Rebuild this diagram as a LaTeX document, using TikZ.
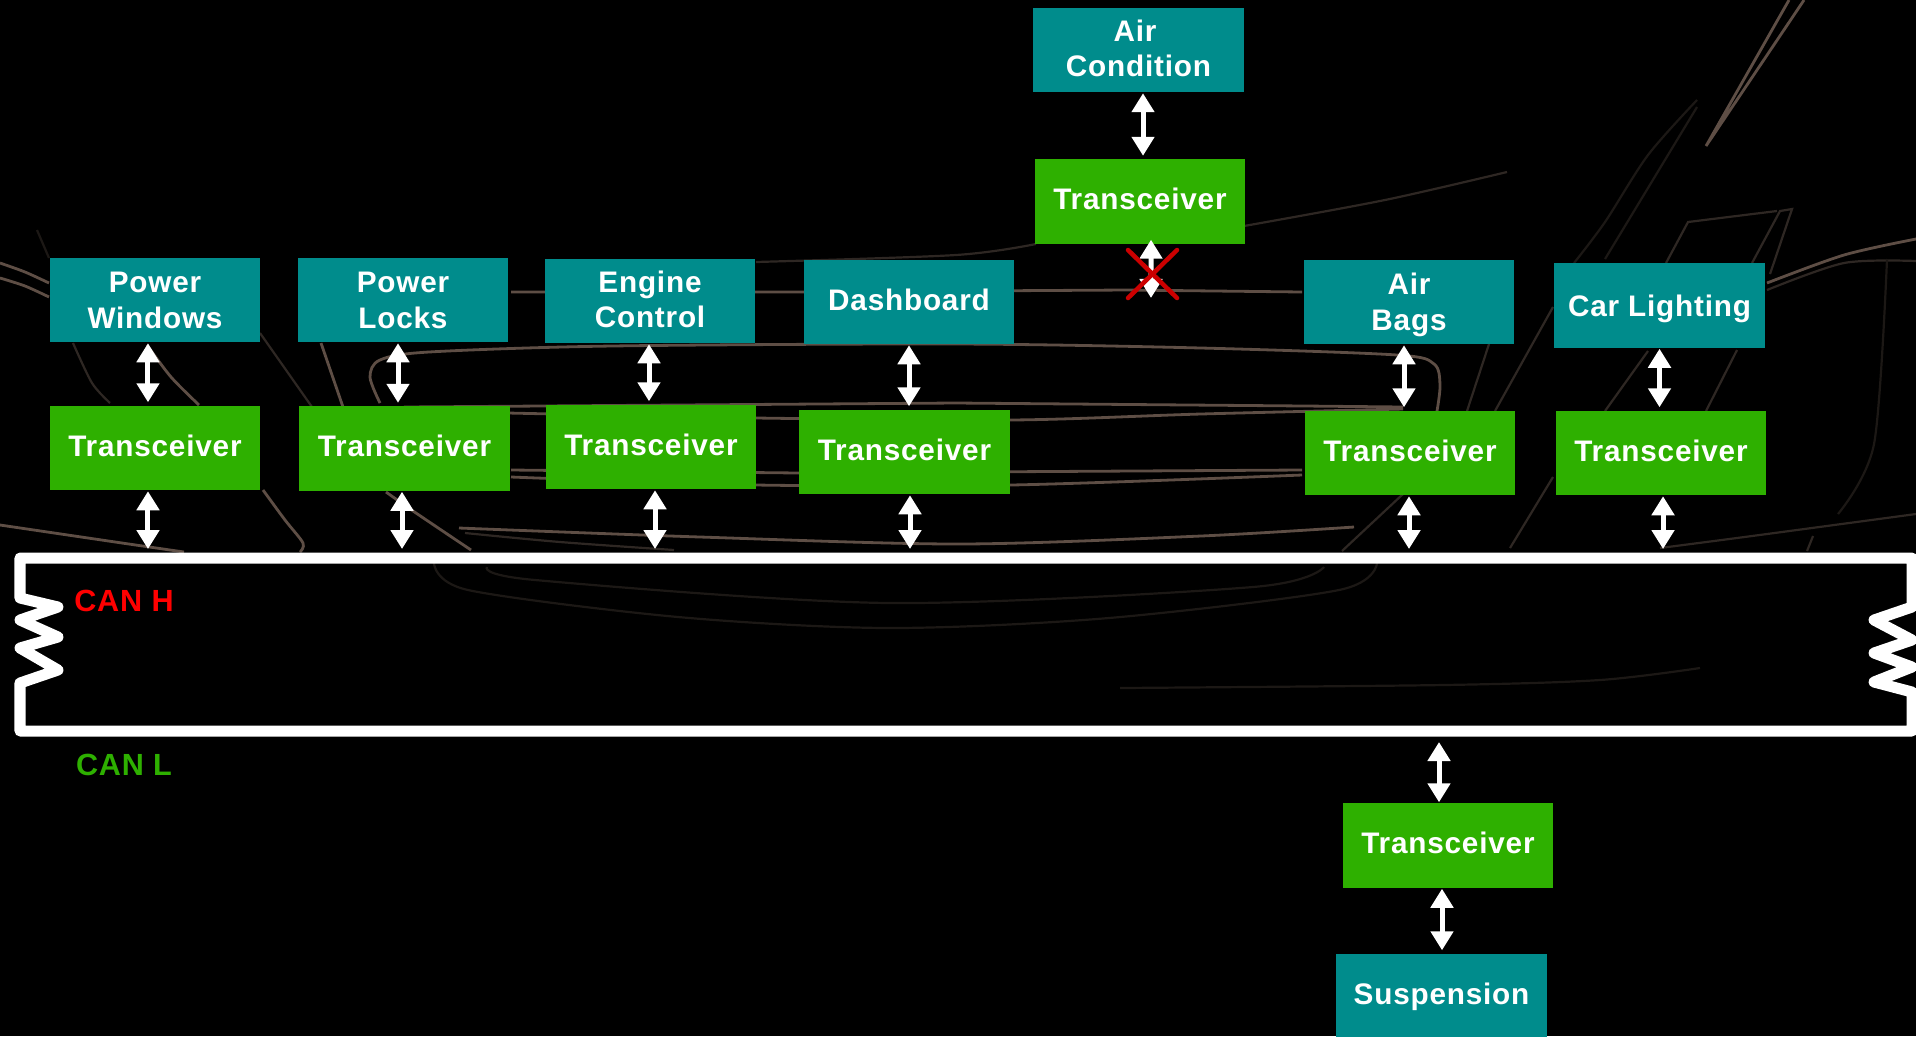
\documentclass[tikz,border=0pt]{standalone}
\usepackage{fontspec}
\setmainfont[LetterSpace=2.7]{Liberation Sans}
\usetikzlibrary{arrows.meta}
\definecolor{modteal}{HTML}{008C8C}
\definecolor{trxgreen}{HTML}{2EB000}
\definecolor{crossred}{HTML}{CC0000}
\definecolor{sketchtan}{HTML}{5E4E45}
\definecolor{sketchdim}{HTML}{2E2723}
\definecolor{sketchvague}{HTML}{1C1815}
\tikzset{>={Triangle[length=.19cm,width=.22cm]}}
\tikzset{
    modbox/.style={fill=modteal, text=white, minimum width=2.1cm, minimum height=.84cm, inner sep=0pt,
        align=center, font=\fontsize{8.45}{10.2}\selectfont\bfseries},
    oneline/.style={text height=6pt, text depth=#1},
    trxbox/.style={modbox, fill=trxgreen, oneline=1.2pt},
    linkarrow/.style={<->, white, line width=.05cm, shorten >=.03cm, shorten <=.005cm},
    canlabel/.style={font=\fontsize{8.7}{10}\selectfont\bfseries},
    sketch/.style={sketchtan, line width=.028cm},
    sketchfaint/.style={sketchdim, line width=.022cm},
    sketchgone/.style={sketchvague, line width=.022cm}
}

\begin{document}
\begin{tikzpicture}[x=.01cm, y=-.01cm]
    \useasboundingbox (0,0) rectangle (1916,1036);
    \fill [black] (0,0) rectangle (1916,1036);

    % car outline behind the diagram
    \draw [sketch] plot [smooth] coordinates {(0,263) (25,272) (49,283)};
    \draw [sketch] plot [smooth] coordinates {(0,278) (25,286) (49,297)};
    \draw [sketch] plot [smooth] coordinates {(147,345) (171,377) (199,405)};
    \draw [sketch] plot [smooth] coordinates {(263,490) (285,520) (303,543) (300,552)};
    \draw [sketchfaint] plot [smooth] coordinates {(73,343) (92,383) (110,403)};
    \draw [sketchfaint] (260,333) -- (312,407);
    \draw [sketch] (321,343) -- (343,407);
    \draw [sketchgone] (37,230) -- (49,258);
    \draw [sketch] plot [smooth] coordinates {(380,403) (370,377) (380,360) (429,352) (612,346)
        (956,344) (1201,348) (1397,355) (1434,364) (1440,385) (1437,411)};
    \draw [sketch] (404,407) -- (956,403) -- (1305,406) -- (1403,407);
    \draw [sketch] plot [smooth] coordinates {(508,413) (756,418) (1011,420) (1201,414) (1403,409)};
    \draw [sketch] (511,292) -- (802,292) -- (1127,290) -- (1302,292);
    \draw [sketchfaint] plot [smooth] coordinates {(756,262) (956,255) (1036,244)};
    \draw [sketchfaint] plot [smooth] coordinates {(1244,226) (1385,200) (1507,172)};
    \draw [sketch] (511,470) -- (799,473) -- (1302,470);
    \draw [sketch] plot [smooth] coordinates {(511,477) (756,485) (1011,485) (1302,475)};
    \draw [sketch] plot [smooth] coordinates {(459,528) (700,537) (960,544) (1201,536) (1354,527)};
    \draw [sketchfaint] plot [smooth] coordinates {(465,533) (560,542) (674,550)};
    \draw [sketch] plot [smooth] coordinates {(0,525) (122,543) (184,552)};
    \draw [sketch] plot [smooth] coordinates {(386,492) (416,513) (471,550)};
    \draw [sketchgone] plot [smooth] coordinates {(434,563) (468,590) (678,617) (889,628) (1109,618) (1339,590) (1377,563)};
    \draw [sketchgone] plot [smooth] coordinates {(487,567) (535,580) (889,603) (1253,587) (1324,567)};
    \draw [sketchgone] plot [smooth] coordinates {(1120,688) (1444,685) (1600,680) (1700,668)};
    \draw [sketch] (1804,0) -- (1706,146) -- (1789,0);
    \draw [sketchgone] plot [smooth] coordinates {(1697,100) (1648,155) (1605,222) (1574,263)};
    \draw [sketchgone] (1697,107) -- (1605,259);
    \draw [sketchfaint] (1666,263) -- (1688,222) -- (1777,211);
    \draw [sketchfaint] (1752,263) -- (1780,211) -- (1792,209) -- (1770,274);
    \draw [sketch] plot [smooth] coordinates {(1916,239) (1844,255) (1767,283)};
    \draw [sketchfaint] plot [smooth] coordinates {(1916,261) (1844,263) (1767,290)};
    \draw [sketchfaint] (1489,344) -- (1467,411);
    \draw [sketchfaint] (1553,307) -- (1495,411);
    \draw [sketchfaint] (1648,351) -- (1605,411);
    \draw [sketchfaint] (1737,350) -- (1706,411);
    \draw [sketchfaint] (1553,477) -- (1510,548);
    \draw [sketchfaint] plot [smooth] coordinates {(1916,514) (1752,536) (1660,548)};
    \draw [sketchfaint] (1813,536) -- (1807,551);
    \draw [sketchfaint] (1403,494) -- (1342,551);
    \draw [sketchgone] plot [smooth] coordinates {(1887,259) (1874,444) (1838,514)};

    % bus with its two end resistors
    \coordinate (bustop) at (20,552);
    \coordinate (busbot) at (20,739);
    \draw [white, line width=.11cm, line join=round] (20,558) -- (1912,558) -- (1912,607)
        -- (1874,620) -- (1912,640) -- (1874,653) -- (1912,667) -- (1874,682) -- (1912,692)
        -- (1912,731) -- (20,731) -- (20,683) -- (58,670) -- (20,648) -- (58,637) -- (20,620)
        -- (58,607) -- (20,598) -- cycle;
    \node [canlabel, text=red] (canh) at (124,601) {CAN H};
    \node [canlabel, text=trxgreen] (canl) at (124,765) {CAN L};

    % modules
    \node [modbox] (pwin) at (155,300) {Power\\Windows};
    \node [modbox] (plock) at (403,300) {Power\\Locks};
    \node [modbox, text depth=1pt] (engine) at (650,301) {Engine\\Control};
    \node [modbox, oneline=1.2pt] (dash) at (909,302) {Dashboard};
    \node [modbox, text depth=1pt] (aircon) at (1138.5,50) {Air\hspace*{2pt}\\Condition};
    \node [modbox, text depth=-.4pt] (airbag) at (1409,302) {Air\\Bags};
    \node [modbox, oneline=0pt] (light) at (1659.5,305.5) {Car Lighting};
    \node [modbox, oneline=1pt] (susp) at (1441.5,996) {Suspension};

    % transceivers
    \node [trxbox] (pwintrx) at (155,448) {Transceiver};
    \node [trxbox] (plocktrx) at (404.5,448.5) {Transceiver};
    \node [trxbox] (enginetrx) at (651,447) {Transceiver};
    \node [trxbox] (dashtrx) at (904.5,452) {Transceiver};
    \node [trxbox] (aircontrx) at (1140,201.5) {Transceiver};
    \node [trxbox] (airbagtrx) at (1410,453) {Transceiver};
    \node [trxbox] (lighttrx) at (1661,453) {Transceiver};
    \node [trxbox] (susptrx) at (1448,845.5) {Transceiver};

    % module to transceiver
    \draw [linkarrow] ([xshift=-.07cm]pwin.south) -- ([xshift=-.07cm]pwin.south |- pwintrx.north);
    \draw [linkarrow] ([xshift=-.05cm]plock.south) -- ([xshift=-.05cm]plock.south |- plocktrx.north);
    \draw [linkarrow] ([xshift=-.01cm]engine.south) -- ([xshift=-.01cm]engine.south |- enginetrx.north);
    \draw [linkarrow] (dash.south) -- (dash.south |- dashtrx.north);
    \draw [linkarrow] ([xshift=.045cm]aircon.south) -- ([xshift=.045cm]aircon.south |- aircontrx.north);
    \draw [linkarrow] ([xshift=-.05cm]airbag.south) -- ([xshift=-.05cm]airbag.south |- airbagtrx.north);
    \draw [linkarrow] (light.south) -- (light.south |- lighttrx.north);
    \draw [linkarrow] ([xshift=-.06cm]susptrx.south) -- ([xshift=-.06cm]susptrx.south |- susp.north);

    % transceiver to bus
    \draw [linkarrow] ([xshift=-.07cm]pwintrx.south) -- ([xshift=-.07cm]pwintrx.south |- bustop);
    \draw [linkarrow] ([xshift=-.025cm]plocktrx.south) -- ([xshift=-.025cm]plocktrx.south |- bustop);
    \draw [linkarrow] ([xshift=.04cm]enginetrx.south) -- ([xshift=.04cm]enginetrx.south |- bustop);
    \draw [linkarrow] ([xshift=.055cm]dashtrx.south) -- ([xshift=.055cm]dashtrx.south |- bustop);
    \draw [linkarrow] ([xshift=-.01cm]airbagtrx.south) -- ([xshift=-.01cm]airbagtrx.south |- bustop);
    \draw [linkarrow] ([xshift=.02cm]lighttrx.south) -- ([xshift=.02cm]lighttrx.south |- bustop);
    \draw [linkarrow] ([xshift=-.09cm]susptrx.north) -- ([xshift=-.09cm]susptrx.north |- busbot);

    % the broken link under air condition
    \coordinate (acstub) at (1151,301);
    \draw [linkarrow] ([xshift=.11cm,yshift=.05cm]aircontrx.south) -- (acstub);
    \coordinate (crossa) at (1128,250);
    \coordinate (crossb) at (1177,298);
    \coordinate (crossc) at (1177,250);
    \coordinate (crossd) at (1128,298);
    \draw [crossred, line width=.045cm, line cap=round] (crossa) -- (crossb);
    \draw [crossred, line width=.045cm, line cap=round] (crossc) -- (crossd);
\end{tikzpicture}
\end{document}
